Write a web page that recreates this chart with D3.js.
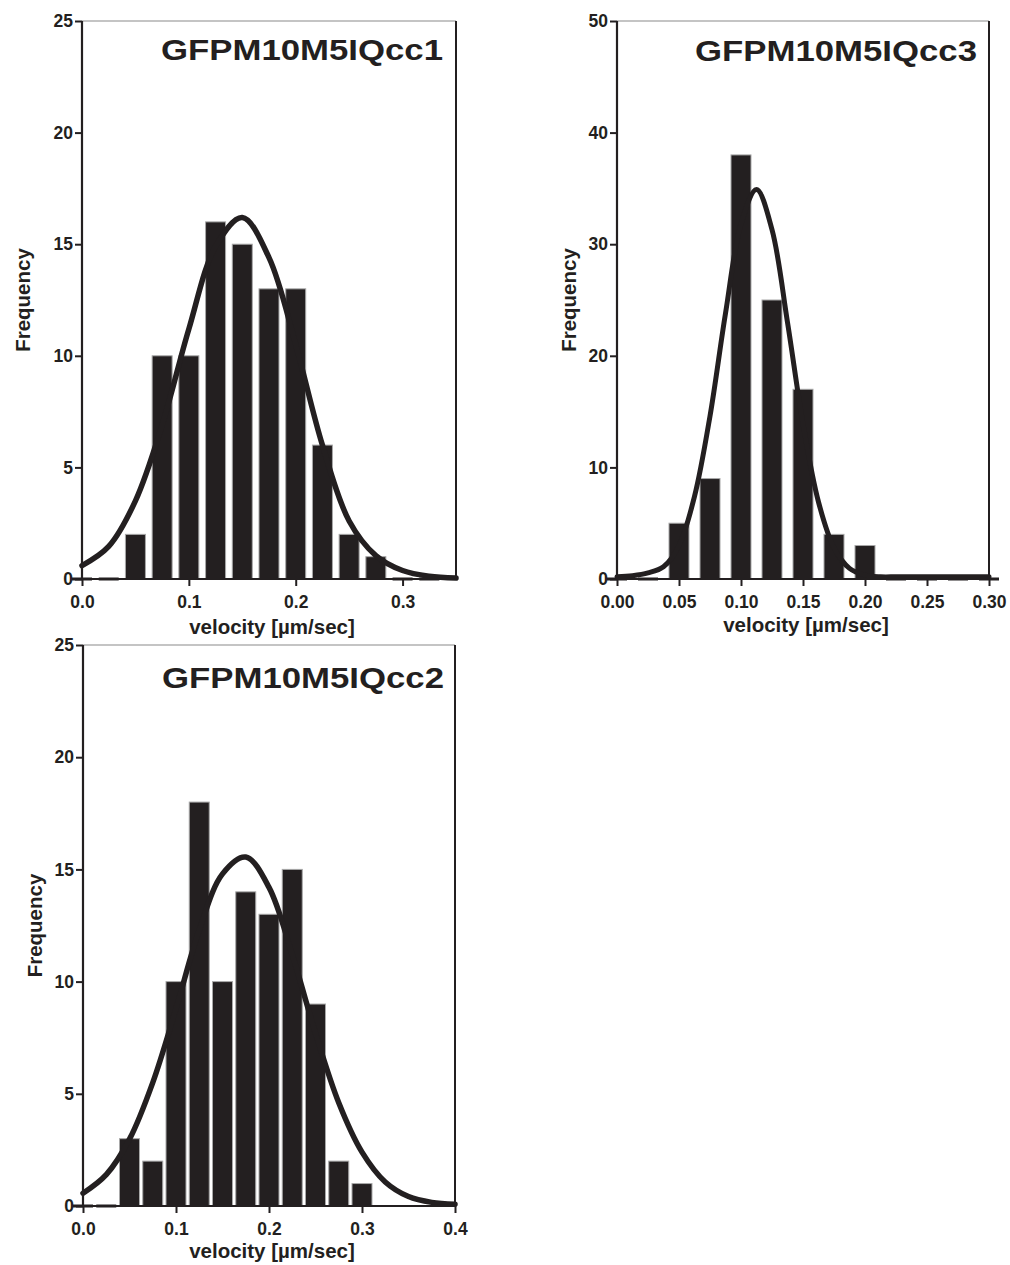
<!DOCTYPE html>
<html>
<head>
<meta charset="utf-8">
<script src="https://cdn.jsdelivr.net/npm/d3@7"></script>
<style>
  html, body { margin: 0; padding: 0; background: #fff; }
  svg { display: block; }
  text { font-family: "Liberation Sans", Arial, Helvetica, sans-serif; font-weight: bold; fill: #231f20; }
</style>
</head>
<body>
<svg id="chart" width="1010" height="1265"></svg>
<script>
// ---- data: velocity histograms (bin centres, counts) and fitted curves ----
const bins1   = [0, 0.025, 0.05, 0.075, 0.1, 0.125, 0.15, 0.175, 0.2, 0.225, 0.25, 0.275, 0.3, 0.325];
const counts1 = [0, 0, 2, 10, 10, 16, 15, 13, 13, 6, 2, 1, 0, 0];
const curve1X = [0, 0.025, 0.05, 0.075, 0.1, 0.125, 0.15, 0.175, 0.2, 0.225, 0.25, 0.275, 0.3, 0.325, 0.35];
const curve1Y = [0.6, 1.46, 3.5, 6.9, 11.2, 14.9, 16.2, 14.4, 10.5, 6.0, 2.6, 1.05, 0.38, 0.12, 0.04];

const bins3   = [0, 0.025, 0.05, 0.075, 0.1, 0.125, 0.15, 0.175, 0.2, 0.225, 0.25, 0.275, 0.3];
const counts3 = [0, 0, 5, 9, 38, 25, 17, 4, 3, 0, 0, 0, 0];
const curve3X = [0, 0.0125, 0.025, 0.0375, 0.05, 0.0625, 0.075, 0.0875, 0.1, 0.1125, 0.125, 0.1375,
                 0.15, 0.1625, 0.175, 0.1875, 0.2, 0.2125, 0.225, 0.2375, 0.25, 0.2625, 0.275, 0.2875, 0.3];
const curve3Y = [0.2, 0.3, 0.55, 1.1, 3.0, 7.4, 14.6, 23.8, 31.8, 34.9, 31.3, 23.0,
                 13.9, 6.9, 2.8, 0.95, 0.35, 0.2, 0.2, 0.2, 0.2, 0.2, 0.2, 0.2, 0.2];

const bins2   = [0, 0.025, 0.05, 0.075, 0.1, 0.125, 0.15, 0.175, 0.2, 0.225, 0.25, 0.275, 0.3];
const counts2 = [0, 0, 3, 2, 10, 18, 10, 14, 13, 15, 9, 2, 1];
const curve2X = [0, 0.025, 0.05, 0.075, 0.1, 0.125, 0.15, 0.175, 0.2, 0.225, 0.25, 0.275, 0.3, 0.325, 0.35, 0.375, 0.4];
const curve2Y = [0.57, 1.4, 2.98, 5.5, 8.8, 12.3, 14.8, 15.55, 14.2, 11.2, 7.7, 4.6, 2.4, 1.07, 0.42, 0.16, 0.08];

const titles = ["GFPM10M5IQcc1", "GFPM10M5IQcc3", "GFPM10M5IQcc2"];
const xTicks1 = [0, 0.1, 0.2, 0.3];
const xTicks3 = [0, 0.05, 0.1, 0.15, 0.2, 0.25, 0.3];
const xTicks2 = [0, 0.1, 0.2, 0.3, 0.4];
const yTicks1 = [0, 5, 10, 15, 20, 25];
const yTicks3 = [0, 10, 20, 30, 40, 50];
const yTicks2 = [0, 5, 10, 15, 20, 25];
const xLabel = "velocity [µm/sec]";
const yLabel = "Frequency";

// ---- layout ----
const INK = "#231f20";
const BAR_PX = 20;
const TICK_FONT = 17.5;

const panels = [
  { title: titles[0], bins: bins1, counts: counts1, cx: curve1X, cy: curve1Y,
    left: 82, right: 456, top: 21, bottom: 579, xMax: 0.35, yMax: 25,
    xTicks: xTicks1, xFmt: ".1f", yTicks: yTicks1,
    yLabelX: 30, xLabelDy: 55, titleRight: 443, titleBase: 60, curveW: 5.5 },
  { title: titles[1], bins: bins3, counts: counts3, cx: curve3X, cy: curve3Y,
    left: 617, right: 989, top: 21, bottom: 579, xMax: 0.30, yMax: 50,
    xTicks: xTicks3, xFmt: ".2f", yTicks: yTicks3,
    yLabelX: 576, xLabelDy: 53, titleRight: 977, titleBase: 61, curveW: 5 },
  { title: titles[2], bins: bins2, counts: counts2, cx: curve2X, cy: curve2Y,
    left: 83, right: 455, top: 645, bottom: 1206, xMax: 0.4, yMax: 25,
    xTicks: xTicks2, xFmt: ".1f", yTicks: yTicks2,
    yLabelX: 42, xLabelDy: 52, titleRight: 444, titleBase: 688, curveW: 5.5 }
];

const svg = d3.select("#chart");

panels.forEach(p => {
  const x = d3.scaleLinear().domain([0, p.xMax]).range([p.left, p.right]);
  const y = d3.scaleLinear().domain([0, p.yMax]).range([p.bottom, p.top]);
  const g = svg.append("g");

  // frame: thin grey top edge, dark right edge
  g.append("line").attr("x1", p.left).attr("x2", p.right).attr("y1", p.top).attr("y2", p.top)
    .attr("stroke", "#8a8a8a").attr("stroke-width", 1.2);
  g.append("line").attr("x1", p.right).attr("x2", p.right).attr("y1", p.top).attr("y2", p.bottom)
    .attr("stroke", INK).attr("stroke-width", 2);

  // bars (empty bins drawn as a thick dash on the baseline)
  const bars = p.bins.map((b, i) => ({ b, c: p.counts[i] }));
  g.selectAll("rect.bar").data(bars).enter().append("rect")
    .attr("class", "bar")
    .attr("x", d => x(d.b) - BAR_PX / 2)
    .attr("width", BAR_PX)
    .attr("y", d => d.c > 0 ? y(d.c) : y(0) - 1.5)
    .attr("height", d => d.c > 0 ? y(0) - y(d.c) : 3)
    .attr("fill", INK)
    .attr("stroke", d => d.c > 0 ? "#a8a8a8" : "none")
    .attr("stroke-width", 1);

  // fitted curve
  const pts = p.cx.map((v, i) => [v, p.cy[i]]);
  g.append("path").datum(pts)
    .attr("d", d3.line().x(d => x(d[0])).y(d => y(d[1])).curve(d3.curveCatmullRom.alpha(0.5)))
    .attr("fill", "none").attr("stroke", INK).attr("stroke-width", p.curveW)
    .attr("stroke-linejoin", "round").attr("stroke-linecap", "round");

  // axes
  const xAxis = d3.axisBottom(x).tickValues(p.xTicks).tickFormat(d3.format(p.xFmt))
    .tickSize(7).tickSizeOuter(0).tickPadding(10);
  const gx = g.append("g").attr("transform", `translate(0,${p.bottom})`).call(xAxis);
  gx.select(".domain").remove();
  gx.selectAll(".tick line").attr("stroke", INK).attr("stroke-width", 2);
  gx.selectAll(".tick text").attr("font-size", TICK_FONT).attr("fill", INK)
    .style("font-family", "'Liberation Sans', Arial, sans-serif").style("font-weight", "bold");

  const yAxis = d3.axisLeft(y).tickValues(p.yTicks).tickFormat(d3.format("d"))
    .tickSize(7).tickSizeOuter(0).tickPadding(2);
  const gy = g.append("g").attr("transform", `translate(${p.left},0)`).call(yAxis);
  gy.select(".domain").remove();
  gy.selectAll(".tick line").attr("stroke", INK).attr("stroke-width", 2);
  gy.selectAll(".tick text").attr("font-size", TICK_FONT).attr("fill", INK)
    .style("font-family", "'Liberation Sans', Arial, sans-serif").style("font-weight", "bold");

  // axis lines
  g.append("line").attr("x1", p.left).attr("x2", p.left).attr("y1", p.top).attr("y2", p.bottom + 1)
    .attr("stroke", INK).attr("stroke-width", 2.2);
  g.append("line").attr("x1", p.left).attr("x2", p.right).attr("y1", p.bottom).attr("y2", p.bottom)
    .attr("stroke", INK).attr("stroke-width", 2);

  // labels
  g.append("text").attr("x", (p.left + p.right) / 2 + 3).attr("y", p.bottom + p.xLabelDy)
    .attr("text-anchor", "middle").attr("font-size", 20.5).text(xLabel);
  g.append("text")
    .attr("transform", `translate(${p.yLabelX},${(p.top + p.bottom) / 2}) rotate(-90)`)
    .attr("text-anchor", "middle").attr("font-size", 20.5).text(yLabel);

  // panel title
  g.append("text").attr("x", p.titleRight - 282).attr("y", p.titleBase)
    .attr("font-size", 30).attr("textLength", 282).attr("lengthAdjust", "spacingAndGlyphs")
    .text(p.title);
});
</script>
</body>
</html>
